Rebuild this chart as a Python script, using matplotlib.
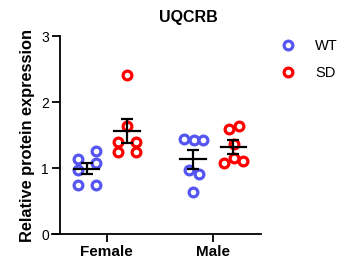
import numpy as np
import matplotlib
matplotlib.use('Agg')
import matplotlib.pyplot as plt
from matplotlib.lines import Line2D

# Data
groups = ['Female', 'Male']
wt_female = [1.14, 1.26, 0.97, 1.08, 0.74, 0.75]
sd_female = [2.41, 1.64, 1.40, 1.40, 1.25, 1.25]
wt_male = [1.44, 1.42, 1.42, 0.97, 0.91, 0.63]
sd_male = [1.59, 1.64, 1.08, 1.15, 1.10, 1.37]

# horizontal scatter of points inside each column
wt_female_jit = [-0.085, 0.085, -0.085, 0.085, -0.085, 0.085]
sd_female_jit = [0.0, 0.0, -0.085, 0.085, -0.085, 0.085]
wt_male_jit = [-0.085, 0.01, 0.095, -0.04, 0.055, 0.0]
sd_male_jit = [-0.04, 0.055, -0.085, 0.01, 0.095, 0.01]

WT_COLOR = '#5555F2'
SD_COLOR = '#FF0000'

plt.rcParams['font.family'] = ['Liberation Sans', 'DejaVu Sans']

fig = plt.figure(figsize=(3.39, 2.69), dpi=100)
ax = fig.add_axes([0.1534, 0.130, 0.6165, 0.736])

offset = 0.19
series = [
  (wt_female, wt_female_jit, 0, -offset, WT_COLOR),
  (sd_female, sd_female_jit, 0, offset, SD_COLOR),
  (wt_male, wt_male_jit, 1, -offset, WT_COLOR),
  (sd_male, sd_male_jit, 1, offset, SD_COLOR),
]

for vals, jit, g, off, col in series:
  vals = np.array(vals)
  x = g + off + np.array(jit)
  ax.plot(x, vals, 'o', ms=6.3, mfc='white', mec=col, mew=2.3, zorder=2)
  mean = vals.mean()
  sem = vals.std(ddof=1) / np.sqrt(len(vals))
  c = g + off
  ax.plot([c - 0.12, c + 0.12], [mean, mean], color='black', lw=1.6, zorder=3)
  ax.errorbar(c, mean, yerr=sem, fmt='none', ecolor='black', elinewidth=1.6,
              capsize=4.5, capthick=1.6, zorder=3)

ax.set_xlim(-0.515, 1.45)
ax.set_ylim(0, 3)
ax.set_yticks([0, 1, 2, 3])
ax.set_xticks([0, 1])
ax.set_xticklabels(groups, fontweight='bold', fontsize=11)
for lab in ax.get_yticklabels():
  lab.set_fontweight('bold')
  lab.set_fontsize(11)

ax.spines['top'].set_visible(False)
ax.spines['right'].set_visible(False)
ax.spines['left'].set_position(('data', -0.44))
for s in ['left', 'bottom']:
  ax.spines[s].set_linewidth(1.3)
ax.tick_params(width=1.3, length=5.5, pad=2.5)

ax.set_ylabel('Relative protein expression', fontweight='bold', fontsize=11.8, labelpad=4)
fig.text(0.557, 0.935, 'UQCRB', ha='center', va='center', fontweight='bold', fontsize=11.5)

handles = [
  Line2D([], [], marker='o', ls='none', ms=6.3, mfc='white', mec=WT_COLOR, mew=2.3, label='WT'),
  Line2D([], [], marker='o', ls='none', ms=6.3, mfc='white', mec=SD_COLOR, mew=2.3, label='SD'),
]
fig.legend(handles=handles, loc='upper left', bbox_to_anchor=(0.788, 0.875), frameon=False,
           fontsize=10.5, labelspacing=0.85, handletextpad=0.9, borderaxespad=0)

fig.savefig('out.png', dpi=100)
